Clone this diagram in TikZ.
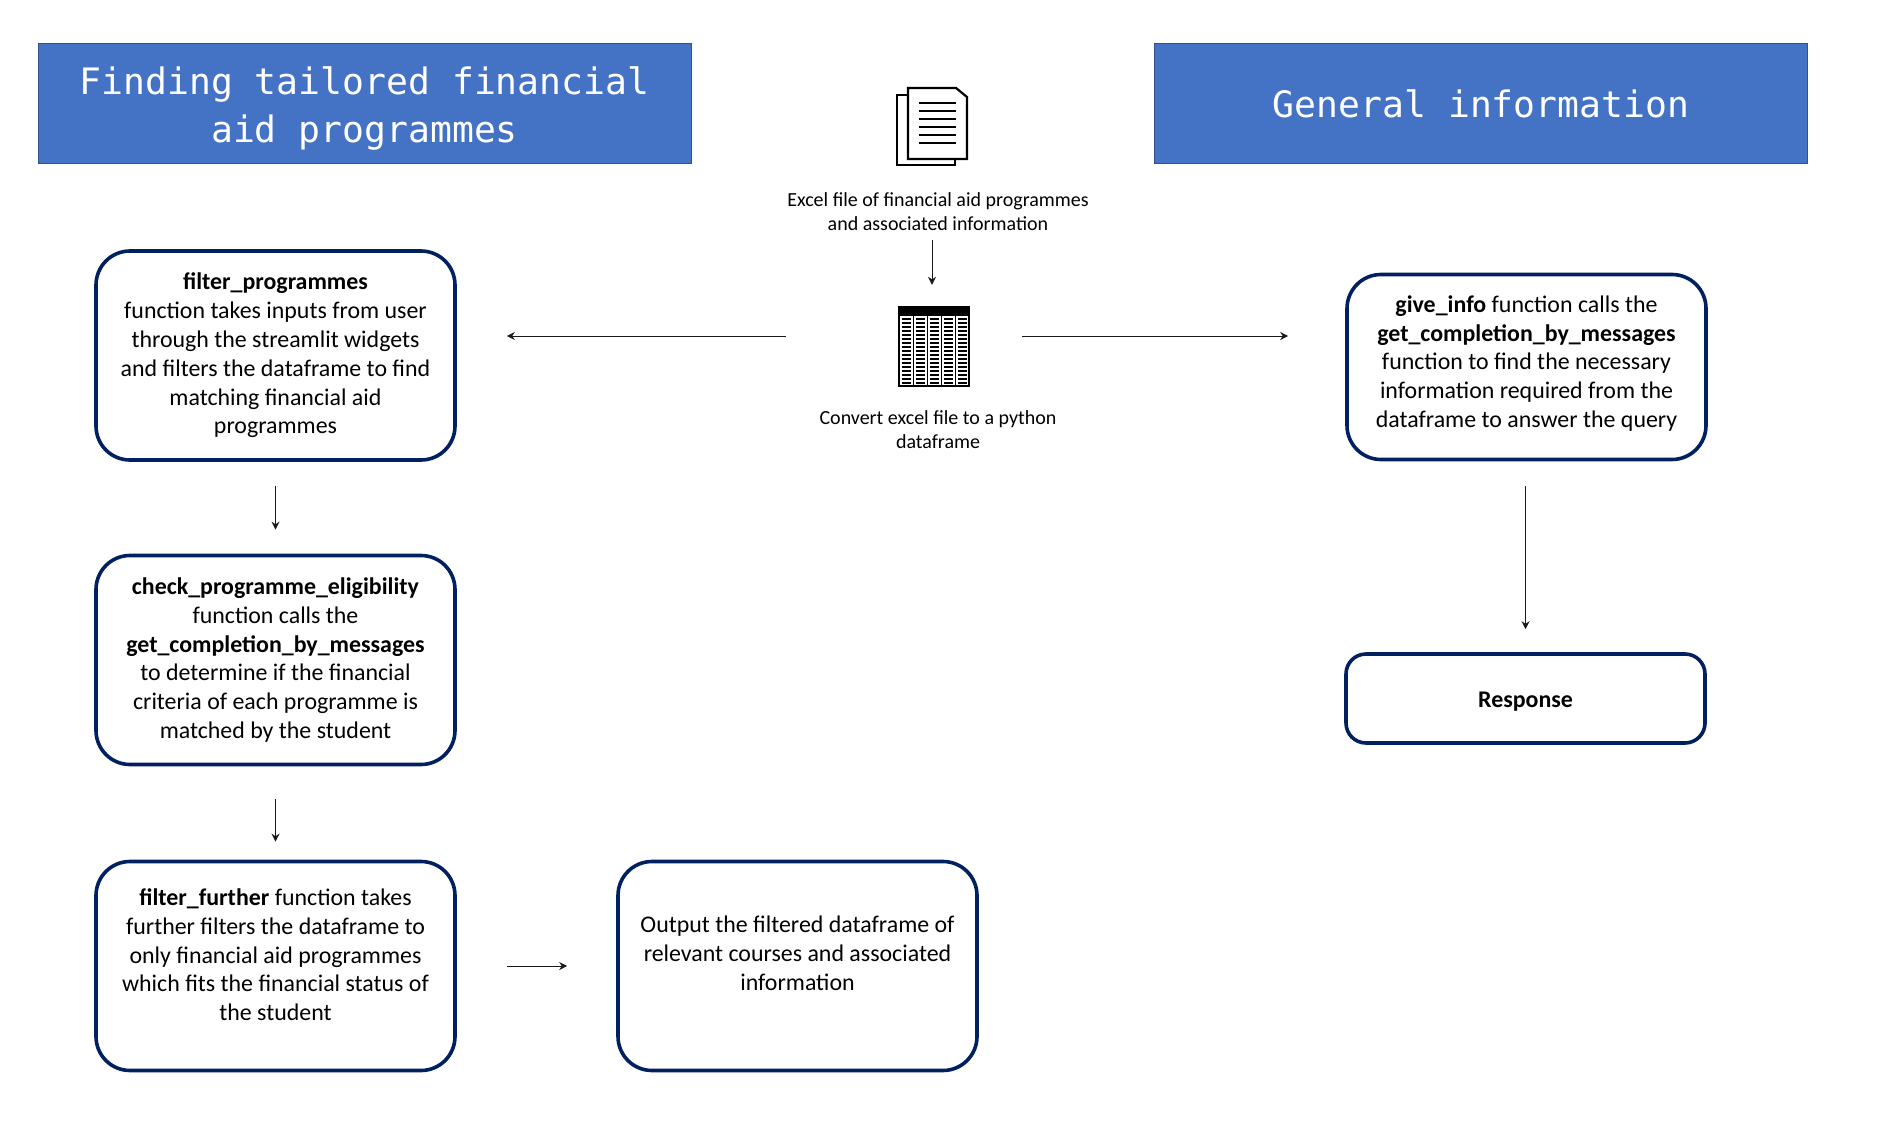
\documentclass[tikz,border=0pt]{standalone}
\usepackage{fontspec}
\setmainfont{Carlito}
\newfontfamily\titlefont{DejaVu Sans Mono}
\usetikzlibrary{arrows.meta}
\definecolor{hdrblue}{HTML}{4472C4}
\definecolor{hdredge}{HTML}{2F528F}
\definecolor{boxedge}{HTML}{002060}
\tikzset{
  header/.style={draw=hdredge,line width=1pt,fill=hdrblue,text=white,minimum width=653pt,minimum height=120pt,inner sep=0pt,align=center,font=\titlefont\fontsize{36.4}{48.5}\selectfont},
  flowbox/.style={draw=boxedge,line width=3.6pt,fill=white,rounded corners=34pt,minimum width=359pt,minimum height=209pt,inner sep=0pt,align=center,font=\fontsize{23.9}{28.8}\selectfont},
  caption/.style={align=center,inner sep=0pt,font=\fontsize{20}{24}\selectfont},
  flowarrow/.style={draw=black!90,line width=1pt,-{Stealth[length=8pt,width=8pt]}},
  iconbox/.style={minimum width=70pt,minimum height=79pt,inner sep=0pt},
  iconline/.style={draw=black,line width=2.2pt}
}
\begin{document}
\begin{tikzpicture}[x=1pt,y=-1pt]
\useasboundingbox (0,0) rectangle (1890,1134);
\fill[white] (0,0) rectangle (1890,1134);

\node[header] (hl) at (364.5,104) {\rule{0pt}{37pt}Finding tailored financial\\aid programmes};
\node[header] (hr) at (1481,104) {General information};

% document icon
\node[iconbox,minimum width=70pt,minimum height=77pt] (doc) at (932,126.5) {};
\draw[iconline] (908,95) -- (897,95) -- (897,165) -- (955,165) -- (955,159);
\draw[iconline,fill=white] (908,88) -- (956,88) -- (967,97) -- (967,159) -- (908,159) -- cycle;
\foreach \yy in {103,111,119,127,135,143} \draw[iconline] (919,\yy) -- (956,\yy);
\node[caption] (doccap) at (938,211.5) {Excel file of financial aid programmes\\and associated information};

% table icon
\node[iconbox] (tbl) at (934,346.5) {};
\fill[black] (899,307) rectangle (969,316);
\foreach \xx in {902,916,930,944,958} \foreach \yy in {319,323,...,383} \draw[black,line width=1.6pt] (\xx,\yy) -- (\xx+9,\yy);
\foreach \xx in {913,927,941,955} \draw[black,line width=1.6pt] (\xx.5,316) -- (\xx.5,386);
\draw[black,line width=2pt] (899,307) rectangle (969,386);
\node[caption] (tblcap) at (938,430) {Convert excel file to a python\\dataframe};

% left column
\node[flowbox] (fp) at (275.5,355.5) {\textbf{filter\_programmes}\\function takes inputs from user\\through the streamlit widgets\\and filters the dataframe to find\\matching financial aid\\programmes};
\node[flowbox] (cp) at (275.5,660) {\textbf{check\_programme\_eligibility}\\function calls the\\\textbf{get\_completion\_by\_messages}\\to determine if the financial\\criteria of each programme is\\matched by the student};
\node[flowbox] (ff) at (275.5,966) {\rule{0pt}{23pt}\textbf{filter\_further} function takes\\further filters the dataframe to\\only financial aid programmes\\which fits the financial status of\\the student\\\mbox{}};
\node[flowbox] (out) at (797.5,966) {\rule{0pt}{20pt}Output the filtered dataframe of\\relevant courses and associated\\information\\\mbox{}};

% right column
\node[flowbox,minimum height=185pt] (gi) at (1526.5,367) {\textbf{give\_info} function calls the\\\textbf{get\_completion\_by\_messages}\\function to find the necessary\\information required from the\\dataframe to answer the query\rule[-11pt]{0pt}{1pt}};
\node[flowbox,minimum height=89pt,rounded corners=20pt] (rs) at (1525.5,698.5) {\rule{0pt}{21pt}\textbf{Response}};

% connectors
\draw[flowarrow,shorten <=9pt,shorten >=22pt] ([xshift=-6pt]doccap.south) -- ([xshift=-2pt]tbl.north);
\draw[flowarrow,shorten <=113pt,shorten >=50pt] ([yshift=10.5pt]tbl.west) -- ([yshift=19.5pt]fp.east);
\draw[flowarrow,shorten <=53pt,shorten >=57pt] ([yshift=10.5pt]tbl.east) -- ([yshift=31pt]gi.west);
\draw[flowarrow,shorten <=24pt,shorten >=24pt] (fp.south) -- (cp.north);
\draw[flowarrow,shorten <=33pt,shorten >=18pt] (cp.south) -- (ff.north);
\draw[flowarrow,shorten <=50pt,shorten >=49pt] (ff.east) -- (out.west);
\draw[flowarrow,shorten <=25pt,shorten >=23pt] ([xshift=-1pt]gi.south) -- (rs.north);
\end{tikzpicture}
\end{document}
